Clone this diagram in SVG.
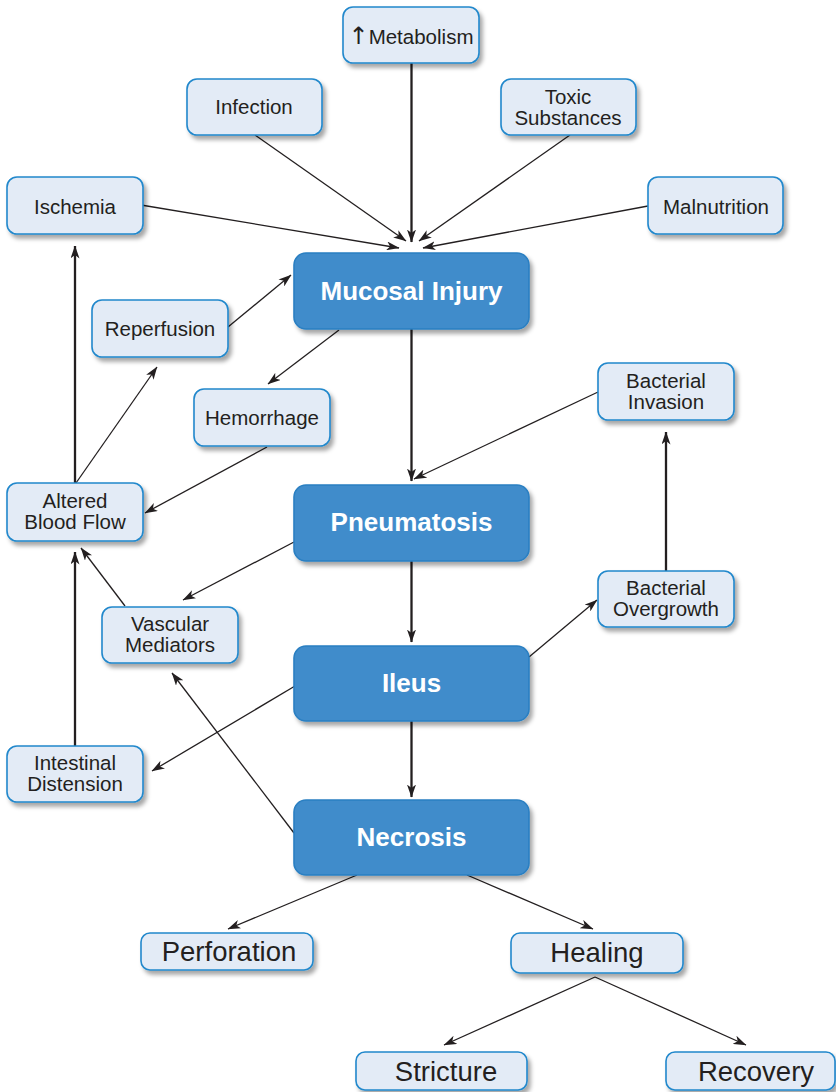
<svg xmlns="http://www.w3.org/2000/svg" width="836" height="1092" viewBox="0 0 836 1092">
<defs>
<filter id="sh" x="-10%" y="-10%" width="130%" height="140%">
<feDropShadow dx="3" dy="4" stdDeviation="2" flood-color="#000" flood-opacity="0.35"/>
</filter>
<marker id="ah" viewBox="0 0 13 9" refX="12.5" refY="4.5" markerWidth="13" markerHeight="9" markerUnits="userSpaceOnUse" orient="auto">
<path d="M0,0 L13,4.5 L0,9 L3.5,4.5 z" fill="#231f20"/>
</marker>
</defs>
<style>
.lt{fill:#e3ebf6;stroke:#2188cc;stroke-width:1.6;filter:url(#sh)}
.bl{fill:#3f8ccb;stroke:#2a7fc2;stroke-width:1.6;filter:url(#sh)}
.t{font-family:"Liberation Sans",Arial,sans-serif;font-size:20.5px;fill:#231f20;text-anchor:middle}
.tb{font-family:"Liberation Sans",Arial,sans-serif;font-size:26px;font-weight:bold;fill:#ffffff;text-anchor:middle}
.tl{font-family:"Liberation Sans",Arial,sans-serif;font-size:27.5px;fill:#231f20;text-anchor:middle}
.up{font-family:"DejaVu Sans","Liberation Sans",sans-serif;font-size:24px;fill:#231f20}
.c{fill:none;stroke:#231f20;stroke-width:1.3;marker-end:url(#ah)}
.v{stroke-width:2.3}
</style>
<rect width="836" height="1092" fill="#ffffff"/>
<g id="connectors">
<line class="c v" x1="411.5" y1="63" x2="411.5" y2="242"/>
<line class="c" x1="255" y1="135" x2="406" y2="241"/>
<line class="c" x1="570" y1="135" x2="419" y2="241"/>
<line class="c" x1="141" y1="205" x2="399" y2="248"/>
<line class="c" x1="648" y1="206" x2="423" y2="248"/>
<line class="c" x1="228" y1="327" x2="291" y2="275"/>
<line class="c" x1="339" y1="330" x2="268" y2="384"/>
<line class="c" x1="267" y1="447" x2="145" y2="513"/>
<line class="c" x1="76" y1="483" x2="157" y2="367"/>
<line class="c v" x1="75" y1="483" x2="75" y2="246"/>
<line class="c v" x1="411.5" y1="329" x2="411.5" y2="481"/>
<line class="c" x1="598" y1="392" x2="414" y2="479"/>
<line class="c v" x1="666" y1="571" x2="666" y2="432"/>
<line class="c" x1="529" y1="657" x2="597" y2="600"/>
<line class="c" x1="294" y1="542" x2="183" y2="600"/>
<line class="c" x1="125" y1="606" x2="81" y2="548"/>
<line class="c v" x1="75" y1="746" x2="75" y2="552"/>
<line class="c" x1="295" y1="686" x2="152" y2="771"/>
<line class="c" x1="294" y1="833" x2="172" y2="673"/>
<line class="c v" x1="411.5" y1="561" x2="411.5" y2="642"/>
<line class="c v" x1="411.5" y1="721" x2="411.5" y2="797"/>
<line class="c" x1="357" y1="875" x2="228" y2="929"/>
<line class="c" x1="467" y1="875" x2="593" y2="929"/>
<line class="c" x1="595" y1="977" x2="444" y2="1045"/>
<line class="c" x1="595" y1="977" x2="746" y2="1045"/>
</g>
<g id="metabolism"><rect class="lt" x="343" y="7" width="136" height="56" rx="10"/><text class="t" x="411" y="44"><tspan class="up">↑</tspan>Metabolism</text></g>
<g id="infection"><rect class="lt" x="187" y="79" width="135" height="56" rx="10"/><text class="t" x="254" y="114">Infection</text></g>
<g id="toxic"><rect class="lt" x="501" y="79" width="135" height="56" rx="10"/><text class="t" x="568" y="104">Toxic</text><text class="t" x="568" y="125">Substances</text></g>
<g id="ischemia"><rect class="lt" x="7" y="177" width="136" height="57" rx="10"/><text class="t" x="75" y="214">Ischemia</text></g>
<g id="malnutrition"><rect class="lt" x="648" y="177" width="135" height="57" rx="10"/><text class="t" x="716" y="214">Malnutrition</text></g>
<g id="mucosal"><rect class="bl" x="294" y="253" width="235" height="76" rx="12"/><text class="tb" x="411.5" y="300">Mucosal Injury</text></g>
<g id="reperfusion"><rect class="lt" x="92" y="300" width="136" height="57" rx="10"/><text class="t" x="160" y="336">Reperfusion</text></g>
<g id="hemorrhage"><rect class="lt" x="194" y="389" width="136" height="57" rx="10"/><text class="t" x="262" y="425">Hemorrhage</text></g>
<g id="altered"><rect class="lt" x="7" y="483" width="136" height="58" rx="10"/><text class="t" x="75" y="508">Altered</text><text class="t" x="75" y="529">Blood Flow</text></g>
<g id="pneumatosis"><rect class="bl" x="294" y="485" width="235" height="76" rx="12"/><text class="tb" x="411.5" y="531">Pneumatosis</text></g>
<g id="invasion"><rect class="lt" x="598" y="363" width="136" height="57" rx="10"/><text class="t" x="666" y="388">Bacterial</text><text class="t" x="666" y="409">Invasion</text></g>
<g id="overgrowth"><rect class="lt" x="598" y="571" width="136" height="56" rx="10"/><text class="t" x="666" y="595">Bacterial</text><text class="t" x="666" y="616">Overgrowth</text></g>
<g id="vascular"><rect class="lt" x="102" y="607" width="136" height="56" rx="10"/><text class="t" x="170" y="631">Vascular</text><text class="t" x="170" y="652">Mediators</text></g>
<g id="ileus"><rect class="bl" x="294" y="646" width="235" height="75" rx="12"/><text class="tb" x="411.5" y="692">Ileus</text></g>
<g id="distension"><rect class="lt" x="7" y="746" width="136" height="56" rx="10"/><text class="t" x="75" y="770">Intestinal</text><text class="t" x="75" y="791">Distension</text></g>
<g id="necrosis"><rect class="bl" x="294" y="800" width="235" height="75" rx="12"/><text class="tb" x="411.5" y="846">Necrosis</text></g>
<g id="perforation"><rect class="lt" x="141" y="933" width="172" height="37" rx="9"/><text class="tl" x="229" y="961">Perforation</text></g>
<g id="healing"><rect class="lt" x="511" y="933" width="172" height="40" rx="9"/><text class="tl" x="597" y="962">Healing</text></g>
<g id="stricture"><rect class="lt" x="356" y="1052" width="171" height="38" rx="9"/><text class="tl" x="446" y="1081">Stricture</text></g>
<g id="recovery"><rect class="lt" x="666" y="1052" width="169" height="38" rx="9"/><text class="tl" x="756" y="1081">Recovery</text></g>
</svg>
